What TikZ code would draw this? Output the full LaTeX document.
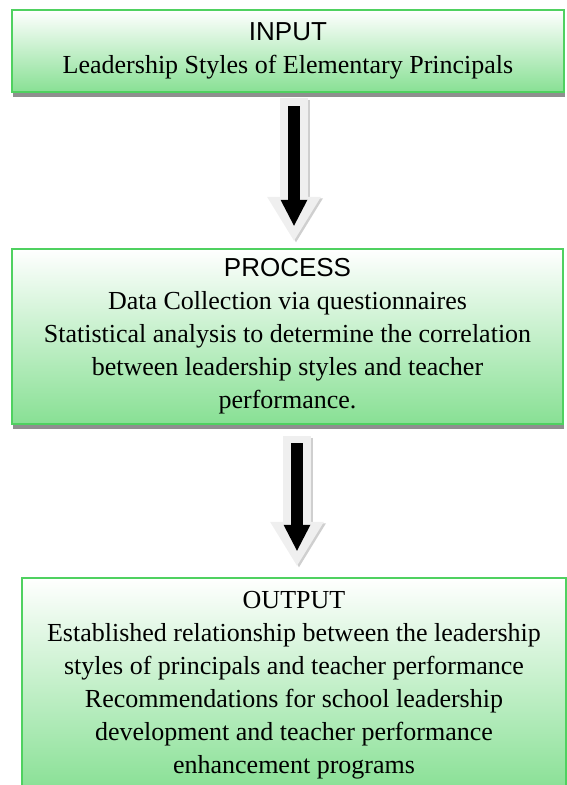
\documentclass[tikz,border=0pt]{standalone}
\usepackage{fontspec}
\setmainfont{Liberation Serif}
\newfontfamily\headfont{Liberation Sans}
\usetikzlibrary{arrows.meta,shadows}

\definecolor{boxline}{HTML}{4FD160}
\definecolor{boxfill}{HTML}{88E094}
\definecolor{arrowpale}{HTML}{EFEFEF}
\definecolor{arrowshade}{HTML}{CFCFCF}

\tikzset{
  stagebox/.style={rectangle, draw=boxline, line width=2.5pt,
    top color=white, bottom color=boxfill, align=center, inner sep=0pt,
    font=\fontsize{26}{33}\selectfont},
  boxshadow/.style={drop shadow={shadow xshift=1pt, shadow yshift=-5pt,
    fill=black!55, opacity=0.8}},
  outerarrow/.style={arrowpale, line width=28pt,
    -{Triangle[width=54pt,length=44pt,line width=0pt]}},
  innerarrow/.style={black, line width=12pt,
    -{Triangle[width=27pt,length=26pt,line width=0pt]}},
}

\begin{document}
\begin{tikzpicture}[x=1pt,y=-1pt]
\useasboundingbox (0,0) rectangle (566,785);

% the three stages
\node[stagebox, boxshadow, minimum width=552pt, minimum height=82pt] (input) at (288,51)
  {{\headfont INPUT}\\Leadership Styles of Elementary Principals};
\node[stagebox, boxshadow, minimum width=551pt, minimum height=175pt] (process) at (287.5,336.5)
  {{\headfont PROCESS}\\Data Collection via questionnaires\\
   Statistical analysis to determine the correlation\\
   between leadership styles and teacher\\performance.};
\node[stagebox, boxshadow, minimum width=544pt, minimum height=214pt] (output) at (294,685)
  {OUTPUT\\Established relationship between the leadership\\
   styles of principals and teacher performance\\
   Recommendations for school leadership\\
   development and teacher performance\\enhancement programs};

% block arrows between stages
\coordinate (axisA) at (294,0);
\coordinate (axisB) at (297,0);
\draw[outerarrow, arrowshade, transform canvas={xshift=2pt,yshift=-1.5pt}, shorten <=5pt, shorten >=7pt]
  (input.south -| axisA) -- (process.north -| axisA);
\draw[outerarrow, shorten <=5pt, shorten >=7pt] (input.south -| axisA) -- (process.north -| axisA);
\draw[innerarrow, shorten <=13pt, shorten >=22pt] (input.south -| axisA) -- (process.north -| axisA);

\draw[outerarrow, arrowshade, transform canvas={xshift=2pt,yshift=-1.5pt}, shorten <=11pt, shorten >=11pt]
  (process.south -| axisB) -- (output.north -| axisB);
\draw[outerarrow, shorten <=11pt, shorten >=11pt] (process.south -| axisB) -- (output.north -| axisB);
\draw[innerarrow, shorten <=18pt, shorten >=26pt] (process.south -| axisB) -- (output.north -| axisB);
\end{tikzpicture}
\end{document}
